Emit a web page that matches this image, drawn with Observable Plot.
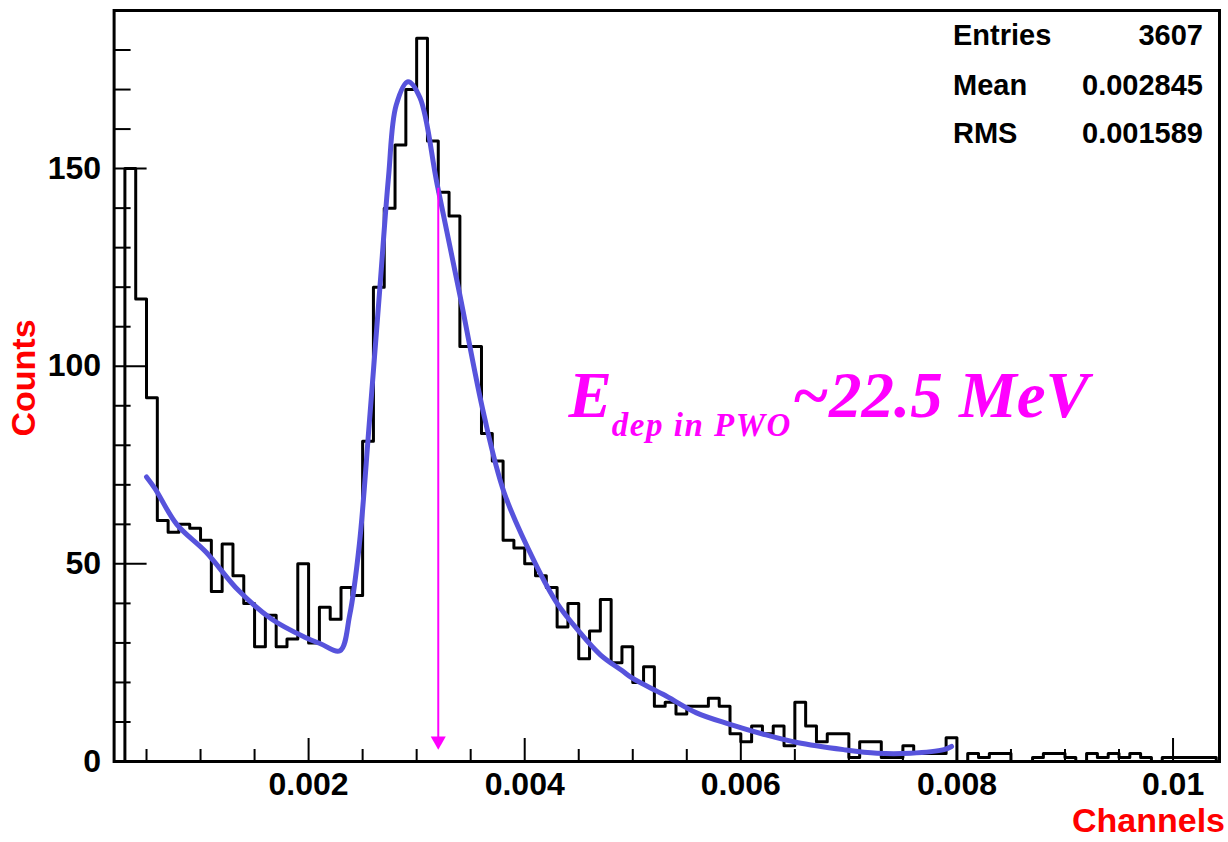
<!DOCTYPE html>
<html><head><meta charset="utf-8">
<script src="https://cdn.jsdelivr.net/npm/d3@7"></script>
<script src="https://cdn.jsdelivr.net/npm/@observablehq/plot@0.6"></script>
<style>
html,body{margin:0;padding:0;background:#fff;}
#chart{width:1228px;height:842px;}
</style></head><body><div id="chart"></div>
<script>
// ---- data ----
const binStart = 0.0002;
const binWidth = 0.0001;
const counts = [
  0,150,117,92,61,58,60,59,56,43,
  55,47,40,29,37,29,31,50,30,39,
  36,44,42,81,120,140,156,170,183,157,
  144,138,105,105,83,76,56,54,50,47,
  44,34,40,26,33,41,25,29,20,24,
  14,15,12,14,14,16,14,7,5,9,
  7,9,4,15,9,5,7,7,1,5,
  5,1,1,4,2,2,2,6,0,2,
  1,2,2,0,0,1,2,2,1,0,
  2,1,2,1,2,1,0,1,1,1,
  1,1,0
];
const fitX = [0.0005,0.00058,0.00078,0.00105,0.00135,0.00166,0.00197,0.00211,0.00229,0.00238,0.00247,0.00256,0.00266,0.00274,0.00281,0.00292,0.00303,0.00319,0.0034,0.00362,0.00381,0.0041,0.0043,0.0045,0.0047,0.0049,0.0050,0.00528,0.00559,0.0059,0.00621,0.00652,0.00695,0.00726,0.00757,0.00788,0.00795];
const fitY = [72,69,60,53,43.3,36,31.4,29.8,28,37,55,85,120,148,166,172,168,146,118,88,68,50,40,33,27,23,21,17,12.3,9.4,6.9,4.8,3.0,2.1,2.1,3.0,3.8];
const xMajorTicks = [0.002,0.004,0.006,0.008,0.01];
const xMajorLabels = ["0.002","0.004","0.006","0.008","0.01"];
const xMinorTicks = [0.0005,0.001,0.0015,0.0025,0.003,0.0035,0.0045,0.005,0.0055,0.0065,0.007,0.0075,0.0085,0.009,0.0095];
const yMajorTicks = [0,50,100,150];
const yMajorLabels = ["0","50","100","150"];
const yMinorTicks = [10,20,30,40,60,70,80,90,110,120,130,140,160,170,180];
const statsLabels = ["Entries","Mean","RMS"];
const statsValues = ["3607","0.002845","0.001589"];
const arrowX = 0.0032, arrowTop = 145, arrowTip = 3;
const xDomain = [0.0002, 0.01043];
const yDomain = [0, 190];
const annX = 0.00441, annY = 87;

// ---- layout ----
const W = 1228, H = 842, mL = 113.6, mR = 9, mT = 10, mB = 81;
const plotW = W - mL - mR, plotH = H - mT - mB;

const steps = [{x: binStart, y: 0}]
  .concat(counts.map((c, i) => ({x: binStart + i * binWidth, y: c})))
  .concat([{x: binStart + counts.length * binWidth, y: counts[counts.length - 1]}]);
const fit = fitX.map((x, i) => ({x, y: fitY[i]}));

const plot = Plot.plot({
  width: W, height: H,
  marginLeft: mL, marginRight: mR, marginTop: mT, marginBottom: mB,
  x: {domain: xDomain},
  y: {domain: yDomain},
  style: {fontFamily: "'Liberation Sans', Arial, sans-serif", fontWeight: "bold", fontSize: "32px", background: "white", color: "black"},
  marks: [
    Plot.axisX({ticks: xMajorTicks, tickFormat: d => xMajorLabels[xMajorTicks.indexOf(d)], tickSize: 0, tickPadding: 11, label: null, fontSize: 32, fontWeight: "bold"}),
    Plot.axisY({ticks: yMajorTicks, tickFormat: d => yMajorLabels[yMajorTicks.indexOf(d)], tickSize: 0, tickPadding: 13, label: null, fontSize: 32, fontWeight: "bold"}),
    Plot.tickX(xMajorTicks, {x: d => d, insetTop: plotH - 23, stroke: "black", strokeWidth: 2}),
    Plot.tickX(xMinorTicks, {x: d => d, insetTop: plotH - 12, stroke: "black", strokeWidth: 2}),
    Plot.tickY(yMajorTicks, {y: d => d, insetRight: plotW - 33, stroke: "black", strokeWidth: 2}),
    Plot.tickY(yMinorTicks, {y: d => d, insetRight: plotW - 17, stroke: "black", strokeWidth: 2}),
    Plot.line(steps, {x: "x", y: "y", curve: "step-after", stroke: "black", strokeWidth: 3, clip: true}),
    Plot.line(fit, {x: "x", y: "y", curve: "catmull-rom", stroke: "#5753dc", strokeWidth: 5}),
    Plot.ruleX([arrowX], {y1: arrowTop, y2: arrowTip + 3, stroke: "#ff00ff", strokeWidth: 2}),
    Plot.dot([arrowX], {x: d => d, y: arrowTip, symbol: "triangle", rotate: 180, r: 5.6, fill: "#ff00ff", stroke: "none", dy: -8.7}),
    Plot.frame({stroke: "black", strokeWidth: 3})
  ]
});

const svg = d3.select(plot);
const sx = plot.scale("x"), sy = plot.scale("y");

// axis titles
svg.append("text")
  .attr("transform", "translate(35,378) rotate(-90)")
  .attr("text-anchor", "middle")
  .attr("fill", "#ff0000")
  .style("font", "bold 34px 'Liberation Sans', Arial, sans-serif")
  .text("Counts");
svg.append("text")
  .attr("x", 1225).attr("y", 832)
  .attr("text-anchor", "end")
  .attr("fill", "#ff0000")
  .style("font", "bold 34px 'Liberation Sans', Arial, sans-serif")
  .text("Channels");

// stats box
const statBase = [45, 95, 143];
statsLabels.forEach((lab, i) => {
  svg.append("text").attr("x", 953).attr("y", statBase[i]).attr("text-anchor", "start")
    .style("font", "bold 29px 'Liberation Sans', Arial, sans-serif").attr("fill", "black").text(lab);
  svg.append("text").attr("x", 1203).attr("y", statBase[i]).attr("text-anchor", "end")
    .style("font", "bold 29px 'Liberation Sans', Arial, sans-serif").attr("fill", "black").text(statsValues[i]);
});

// annotation
const ann = svg.append("text")
  .attr("x", sx.apply(annX)).attr("y", sy.apply(annY))
  .attr("text-anchor", "start")
  .attr("fill", "#ff00ff")
  .style("font-family", "'Liberation Serif', 'Times New Roman', serif")
  .style("font-weight", "bold").style("font-style", "italic");
ann.append("tspan").style("font-size", "65px").text("E");
ann.append("tspan").style("font-size", "33px").attr("dy", 19).style("letter-spacing", "1.5px").text("dep in PWO");
ann.append("tspan").style("font-size", "65px").attr("dy", -19).text("~22.5 MeV");

document.getElementById("chart").appendChild(plot);
</script>
</body></html>
